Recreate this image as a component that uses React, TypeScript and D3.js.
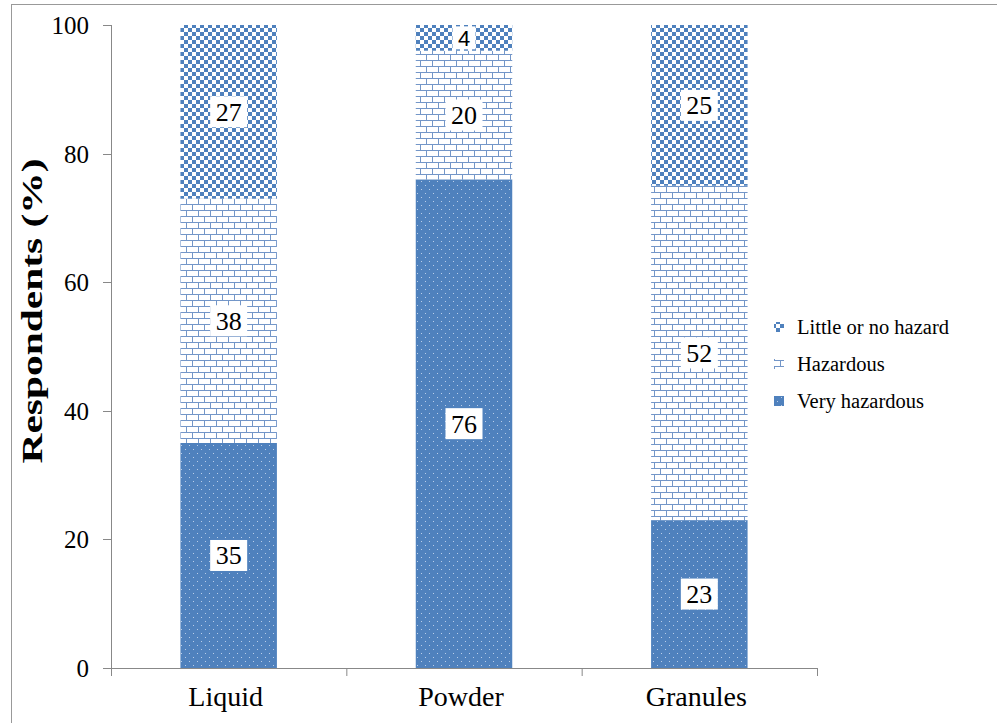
import React from "react";
import * as d3 from "d3";

const categories = ["Liquid", "Powder", "Granules"];
const veryHazardous = [35, 76, 23];
const hazardous = [38, 20, 52];
const littleHazard = [27, 4, 25];
const yTicks = [0, 20, 40, 60, 80, 100];
const seriesNames = ["Little or no hazard", "Hazardous", "Very hazardous"];

const W = 997;
const H = 723;
const BLUE = "#4f81bd";
const SERIF = "Liberation Serif";
const SANS = "Liberation Sans";

export default function App() {
  const x = d3.scaleBand().domain(categories).range([111, 817]).paddingInner(0.59).paddingOuter(0.295);
  const y = d3.scaleLinear().domain([0, 100]).range([668, 25]);
  const band = d3.scaleBand().domain(categories).range([111, 817]);

  const series = [
    { key: "very", name: seriesNames[2], values: veryHazardous, fill: "url(#dots)" },
    { key: "haz", name: seriesNames[1], values: hazardous, fill: "url(#brick)" },
    { key: "little", name: seriesNames[0], values: littleHazard, fill: "url(#checker)" },
  ];

  const stacked = categories.map((c, i) => {
    let base = 0;
    return series.map((s) => {
      const v = s.values[i];
      const seg = { cat: c, key: s.key, y0: base, y1: base + v, v, fill: s.fill };
      base += v;
      return seg;
    });
  });

  const serif = { fontFamily: SERIF } as React.CSSProperties;

  return (
    <div style={{ position: "fixed", left: 0, top: 0, width: W, height: H, background: "#fff" }}>
      <svg width={W} height={H} style={{ display: "block" }}>
        <defs>
          <pattern id="checker" patternUnits="userSpaceOnUse" width={8} height={8}>
            <rect width={8} height={8} fill="#fff" />
            <rect x={0} y={0} width={4} height={4} fill={BLUE} />
            <rect x={4} y={4} width={4} height={4} fill={BLUE} />
          </pattern>
          <pattern id="brick" patternUnits="userSpaceOnUse" width={12} height={12}>
            <rect width={12} height={12} fill="#fff" />
            <path d="M0,0.5H12M0,6.5H12M0.5,0V6.5M6.5,6.5V12" stroke="#7396c8" strokeWidth={1} />
          </pattern>
          <pattern id="dots" patternUnits="userSpaceOnUse" width={8} height={8}>
            <rect width={8} height={8} fill={BLUE} />
            <rect x={1} y={1} width={1} height={1} fill="#b9cde8" />
            <rect x={5} y={5} width={1} height={1} fill="#b9cde8" />
          </pattern>
        </defs>

        <rect x={11.5} y={4.5} width={W} height={H} fill="none" stroke="#999" strokeWidth={1} />

        {stacked.map((segs) =>
          segs.map((s) => (
            <rect
              key={s.cat + s.key}
              x={x(s.cat)}
              y={y(s.y1)}
              width={x.bandwidth()}
              height={y(s.y0) - y(s.y1)}
              fill={s.fill}
            />
          ))
        )}

        {/* axes */}
        <line x1={111.5} x2={111.5} y1={25} y2={668} stroke="#888" />
        {yTicks.map((t) => (
          <g key={t}>
            <line x1={103} x2={111} y1={Math.round(y(t)) + 0.5} y2={Math.round(y(t)) + 0.5} stroke="#888" />
            <text x={89} y={y(t) + 9} textAnchor="end" style={serif} fontSize={25} fill="#000">
              {t}
            </text>
          </g>
        ))}
        <line x1={111} x2={818} y1={668.5} y2={668.5} stroke="#888" />
        {categories.map((c) => (
          <line key={c} x1={band(c)! + band.bandwidth() + 0.5} x2={band(c)! + band.bandwidth() + 0.5} y1={668} y2={676} stroke="#888" />
        ))}
        <line x1={111.5} x2={111.5} y1={668} y2={676} stroke="#888" />
        {categories.map((c) => (
          <text key={c} x={x(c)! + x.bandwidth() / 2 - 3} y={706} textAnchor="middle" style={serif} fontSize={28} fill="#000">
            {c}
          </text>
        ))}

        <text
          transform={`translate(42,311) rotate(-90)`}
          textAnchor="middle"
          style={serif}
          fontSize={29}
          fontWeight="bold"
          textLength={305}
          lengthAdjust="spacingAndGlyphs"
          fill="#000"
        >
          Respondents (%)
        </text>

        {/* data labels */}
        {stacked.map((segs) =>
          segs.map((s) => {
            const cx = x(s.cat)! + x.bandwidth() / 2;
            const cy = y((s.y0 + s.y1) / 2);
            const small = s.v < 10;
            const w = small ? 23 : 37;
            const h = small ? 23 : 31;
            return (
              <g key={"l" + s.cat + s.key}>
                <rect x={cx - w / 2} y={cy - h / 2} width={w} height={h} fill="#fff" />
                <text
                  x={cx}
                  y={small ? cy + 8 : cy + 9}
                  textAnchor="middle"
                  style={{ fontFamily: small ? SANS : SERIF }}
                  fontSize={small ? 22 : 26}
                  fill="#000"
                >
                  {s.v}
                </text>
              </g>
            );
          })
        )}

        {/* legend */}
        {[
          { name: seriesNames[0], fill: "url(#checker)" },
          { name: seriesNames[1], fill: "url(#brick)" },
          { name: seriesNames[2], fill: "url(#dots)" },
        ].map((l, i) => (
          <g key={l.name}>
            <rect x={774} y={322 + i * 37} width={10} height={10} fill={l.fill} />
            <text x={797} y={334 + i * 37} style={serif} fontSize={20.5} fill="#000">
              {l.name}
            </text>
          </g>
        ))}
      </svg>
    </div>
  );
}
